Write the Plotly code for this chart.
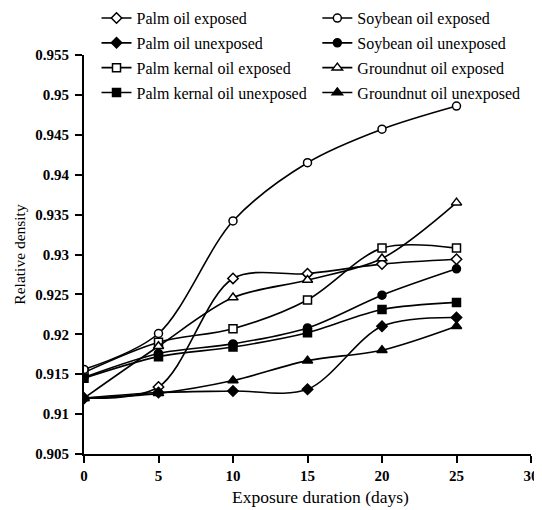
import plotly.graph_objects as go

days = [0, 5, 10, 15, 20, 25]

palm_exposed = [0.912, 0.9134, 0.927, 0.9276, 0.9288, 0.9294]
palm_unexposed = [0.912, 0.9127, 0.9129, 0.9131, 0.921, 0.9221]
pko_exposed = [0.9152, 0.919, 0.9207, 0.9243, 0.9308, 0.9308]
pko_unexposed = [0.9145, 0.9172, 0.9184, 0.9202, 0.9231, 0.924]
soy_exposed = [0.9156, 0.9201, 0.9342, 0.9415, 0.9457, 0.9486]
soy_unexposed = [0.9146, 0.9176, 0.9188, 0.9208, 0.9249, 0.9282]
gn_exposed = [0.912, 0.9185, 0.9246, 0.9268, 0.9295, 0.9365]
gn_unexposed = [0.912, 0.9126, 0.9142, 0.9167, 0.918, 0.921]

series = [
    ("Palm oil exposed", palm_exposed, "diamond-open", "legend"),
    ("Palm oil unexposed", palm_unexposed, "diamond", "legend"),
    ("Palm kernal oil exposed", pko_exposed, "square-open", "legend"),
    ("Palm kernal oil unexposed", pko_unexposed, "square", "legend"),
    ("Soybean oil exposed", soy_exposed, "circle-open", "legend2"),
    ("Soybean oil unexposed", soy_unexposed, "circle", "legend2"),
    ("Groundnut oil exposed", gn_exposed, "triangle-up-open", "legend2"),
    ("Groundnut oil unexposed", gn_unexposed, "triangle-up", "legend2"),
]

x_ticks = [0, 5, 10, 15, 20, 25, 30]
y_ticks = [0.905, 0.91, 0.915, 0.92, 0.925, 0.93, 0.935, 0.94, 0.945, 0.95, 0.955]
y_ticklabels = ["0.905", "0.91", "0.915", "0.92", "0.925", "0.93", "0.935", "0.94", "0.945", "0.95", "0.955"]
x_title = "Exposure duration (days)"
y_title = "Relative density"

FONT = "Liberation Serif"

fig = go.Figure()
for name, vals, sym, leg in series:
    is_open = sym.endswith("-open")
    fig.add_trace(go.Scatter(
        x=days, y=vals, name=name, mode="lines+markers",
        line=dict(color="black", width=1.6, shape="spline", smoothing=0.9),
        marker=dict(symbol=sym.replace("-open", "") if is_open else sym,
                    size=8 if "triangle" not in sym else 9,
                    color="white" if is_open else "black",
                    line=dict(color="black", width=1.5)),
        legend=leg, legendgroup=name,
    ))

legend_common = dict(
    font=dict(family=FONT, size=16, color="black"),
    bgcolor="rgba(0,0,0,0)", borderwidth=0, tracegroupgap=1,
    yanchor="top", xanchor="left", itemwidth=30,
)

# the page adds an 8px body margin, so the figure is 8px smaller and shifted
fig.update_layout(
    width=534, height=502,
    margin=dict(l=76, r=11, t=47, b=56, autoexpand=False),
    paper_bgcolor="white", plot_bgcolor="white",
    font=dict(family=FONT, color="black"),
    showlegend=True,
    legend=dict(x=0.028, y=1.135, **legend_common),
    legend2=dict(x=0.522, y=1.135, **legend_common),
    xaxis=dict(
        range=[0, 30], tickvals=x_ticks, ticktext=[str(v) for v in x_ticks],
        showgrid=False, zeroline=False, showline=True, linecolor="black", linewidth=2,
        ticks="outside", ticklen=7, tickwidth=2, tickcolor="black",
        tickfont=dict(family=FONT, size=15, color="black", weight="bold"),
        automargin=False,
    ),
    yaxis=dict(
        range=[0.905, 0.955], tickvals=y_ticks, ticktext=y_ticklabels,
        showgrid=False, zeroline=False, showline=True, linecolor="black", linewidth=2,
        ticks="outside", ticklen=7, tickwidth=2, tickcolor="black", ticklabelstandoff=3,
        tickfont=dict(family=FONT, size=15, color="black", weight="bold"),
        title=dict(text=y_title, font=dict(family=FONT, size=15.5, color="black"), standoff=6),
        automargin=False,
    ),
    annotations=[dict(
        text=x_title, xref="paper", yref="paper", x=0.53, y=-0.108,
        xanchor="center", yanchor="middle", showarrow=False,
        font=dict(family=FONT, size=17.5, color="black"),
    )],
)

fig.write_html("out.html")
